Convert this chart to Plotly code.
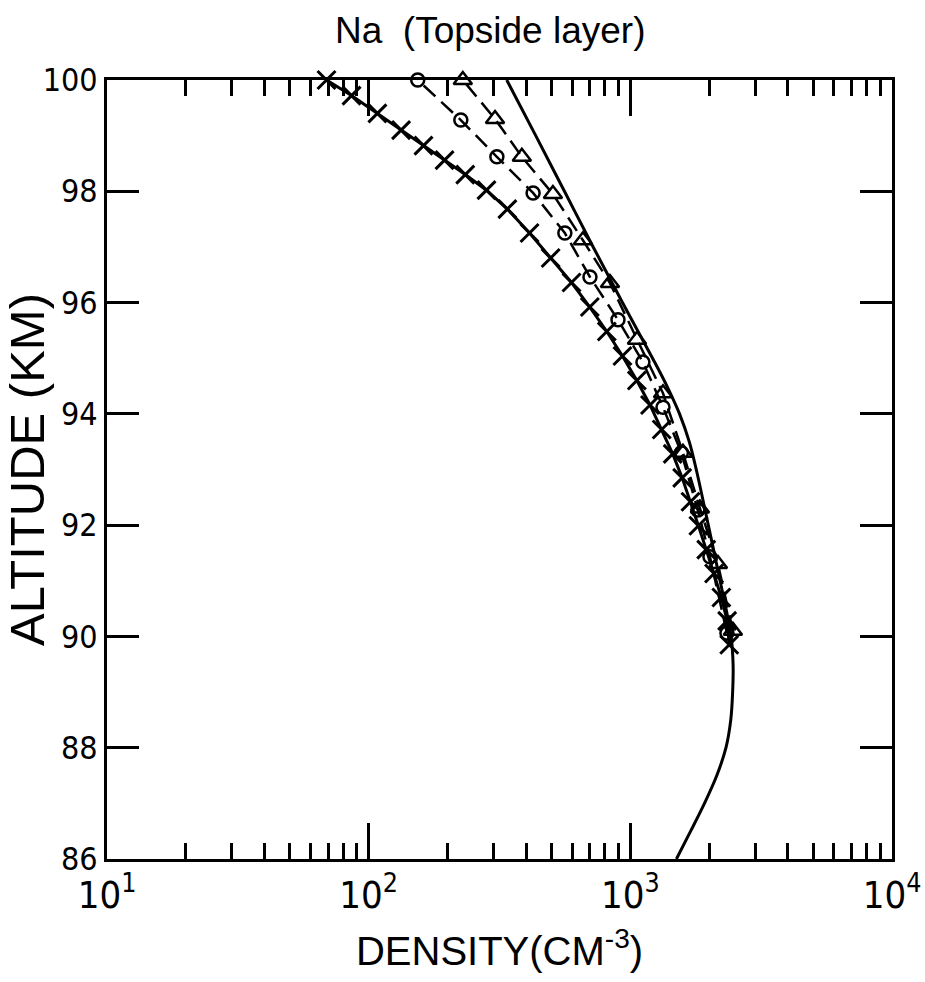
import plotly.graph_objects as go

# Altitude (km) / density (cm^-3) profiles of the Na topside layer

# Reference profile: plain solid curve, 86-100 km
alt_ref = [86.0, 86.5, 87.0, 87.5, 88.0, 88.5, 89.0, 89.5, 90.0, 91.0, 92.0, 93.0,
           93.5, 94.0, 94.5, 95.0, 96.0, 97.0, 98.0, 99.0, 100.0]
dens_ref = [1500, 1700, 1920, 2140, 2320, 2420, 2460, 2470, 2427, 2203, 1986, 1786,
            1679, 1542, 1380, 1216, 933, 721, 560, 435, 337]

# Triangle series (dashed)
alt_tri = [90.1, 91.3, 92.3, 93.3, 94.37, 95.33, 96.35, 97.12, 97.95, 98.62, 99.3, 100.0]
dens_tri = [2466, 2162, 1845, 1589, 1333, 1060, 836, 659, 506, 385, 304, 229]

# Circle series (dashed)
alt_circ = [90.06, 91.43, 92.27, 93.3, 94.12, 94.93, 95.69, 96.46, 97.25, 97.97,
            98.62, 99.28, 100.0]
dens_circ = [2340, 2015, 1811, 1567, 1333, 1117, 897, 701, 562, 425, 309, 225, 154]

# Cross series (solid)
alt_x = [89.85, 90.28, 90.70, 91.13, 91.56, 91.99, 92.42, 92.85, 93.28, 93.72, 94.16,
         94.60, 95.04, 95.48, 95.92, 96.36, 96.80, 97.25, 97.68, 98.02, 98.30, 98.56,
         98.82, 99.10, 99.40, 99.72, 100.0]
dens_x = [2388, 2344, 2228, 2089, 1950, 1820, 1698, 1578, 1452, 1318, 1189,
          1059, 933, 813, 700, 596, 496, 412, 339, 282, 234, 195,
          162, 133, 108, 86, 69]

x_tickvals = [10, 100, 1000, 10000]
x_ticktext = ["10<sup>1</sup>", "10<sup>2</sup>", "10<sup>3</sup>", "10<sup>4</sup>"]
y_tickvals = [86, 88, 90, 92, 94, 96, 98, 100]

TICK_FONT = "DejaVu Sans Condensed, Liberation Sans Narrow, sans-serif"
TEXT_FONT = "Liberation Sans, Arial, sans-serif"

fig = go.Figure()

fig.add_trace(go.Scatter(
    x=dens_ref, y=alt_ref, mode="lines", line=dict(color="black", width=3),
    line_shape="spline", cliponaxis=False, showlegend=False))

fig.add_trace(go.Scatter(
    x=dens_tri, y=alt_tri, mode="lines+markers",
    line=dict(color="black", width=2.5, dash="16px,8px"),
    marker=dict(symbol="triangle-up-open", size=16, color="black",
                line=dict(color="black", width=2.5)),
    cliponaxis=False, showlegend=False))

fig.add_trace(go.Scatter(
    x=dens_circ, y=alt_circ, mode="lines+markers",
    line=dict(color="black", width=2.5, dash="16px,8px"),
    marker=dict(symbol="circle-open", size=13, color="black",
                line=dict(color="black", width=2.5)),
    cliponaxis=False, showlegend=False))

fig.add_trace(go.Scatter(
    x=dens_x, y=alt_x, mode="lines+markers",
    line=dict(color="black", width=3),
    marker=dict(symbol="x-thin", size=18, color="black",
                line=dict(color="black", width=3)),
    cliponaxis=False, showlegend=False))

fig.update_layout(
    width=925, height=982,
    margin=dict(l=107, r=33, t=80, b=123),
    paper_bgcolor="white", plot_bgcolor="white",
    font=dict(family=TEXT_FONT, color="black"),
    title=dict(text="Na  (Topside layer)", x=0.53, xanchor="center",
               y=0.969, yanchor="middle", font=dict(size=37, family=TEXT_FONT)),
)

fig.update_xaxes(
    type="log", range=[1, 4], automargin=False,
    tickmode="array", tickvals=x_tickvals, ticktext=x_ticktext,
    ticks="inside", ticklen=36, tickwidth=2.5, tickcolor="black",
    minor=dict(ticks="inside", ticklen=16, tickwidth=2.5, tickcolor="black",
               dtick="D1", showgrid=False),
    showline=True, linecolor="black", linewidth=3, mirror="ticks",
    showgrid=False, zeroline=False,
    tickfont=dict(size=38, family=TICK_FONT),
    title=dict(text="DENSITY(CM<sup>-3</sup>)", font=dict(size=40, family=TEXT_FONT),
               standoff=22),
)

fig.update_yaxes(
    range=[86, 100], automargin=False,
    tickmode="array", tickvals=y_tickvals,
    ticks="inside", ticklen=32, tickwidth=2.5, tickcolor="black",
    showline=True, linecolor="black", linewidth=3, mirror="ticks",
    showgrid=False, zeroline=False,
    tickfont=dict(size=32, family=TICK_FONT),
    title=dict(text="ALTITUDE (KM)", font=dict(size=49, family=TEXT_FONT), standoff=0),
)

fig.write_html("out.html")
